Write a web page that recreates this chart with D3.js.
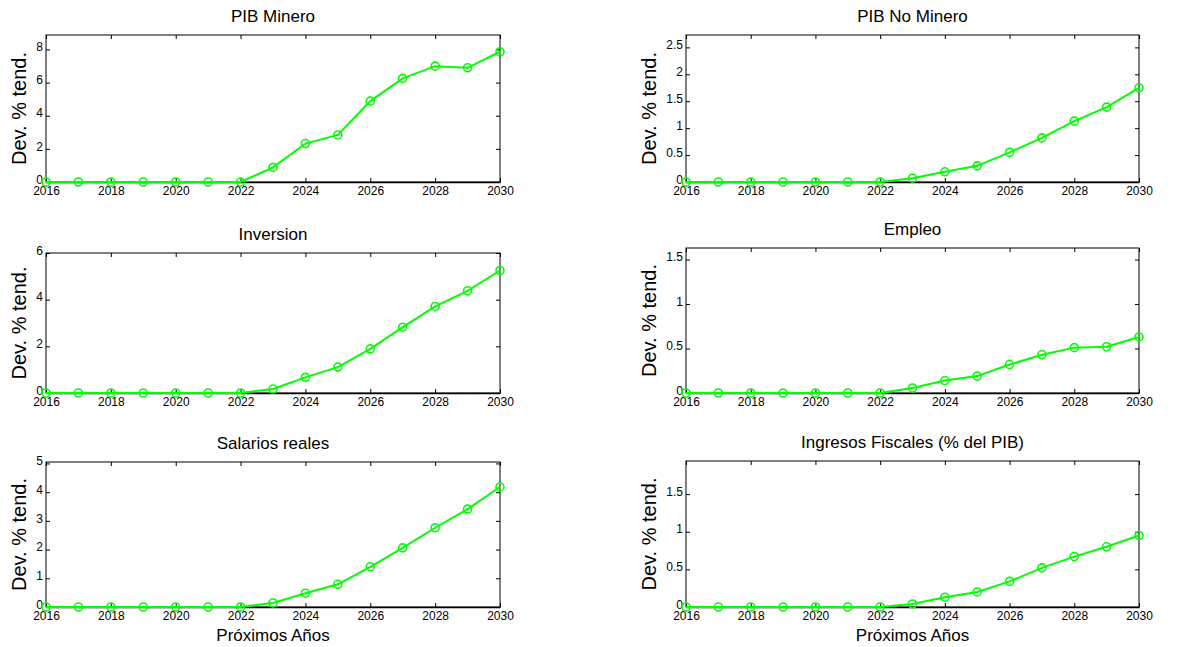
<!DOCTYPE html>
<html>
<head>
<meta charset="utf-8">
<title>Dev. % tend.</title>
<script src="https://d3js.org/d3.v7.min.js"></script>
<style>
  body { margin: 0; background: #fff; }
  svg { font-family: "Liberation Sans", Arial, sans-serif; }
</style>
</head>
<body>
<svg width="1202" height="647"></svg>
<script>
var years = [2016, 2017, 2018, 2019, 2020, 2021, 2022, 2023, 2024, 2025, 2026, 2027, 2028, 2029, 2030];
var xTicks = [2016, 2018, 2020, 2022, 2024, 2026, 2028, 2030];

var titles = ["PIB Minero", "PIB No Minero", "Inversion", "Empleo", "Salarios reales", "Ingresos Fiscales (% del PIB)"];

var pibMinero   = [0, 0, 0, 0, 0, 0, 0, 0.88, 2.32, 2.84, 4.88, 6.25, 6.99, 6.89, 7.86];
var pibNoMinero = [0, 0, 0, 0, 0, 0, 0, 0.07, 0.19, 0.30, 0.55, 0.82, 1.13, 1.39, 1.75];
var inversion   = [0, 0, 0, 0, 0, 0, 0, 0.17, 0.67, 1.11, 1.89, 2.82, 3.71, 4.38, 5.25];
var empleo      = [0, 0, 0, 0, 0, 0, 0, 0.056, 0.14, 0.19, 0.32, 0.43, 0.51, 0.52, 0.63];
var salarios    = [0, 0, 0, 0, 0, 0, 0, 0.14, 0.48, 0.79, 1.40, 2.06, 2.76, 3.41, 4.18];
var ingresos    = [0, 0, 0, 0, 0, 0, 0, 0.04, 0.13, 0.20, 0.34, 0.52, 0.67, 0.80, 0.95];

var yMax   = [8.87, 2.73, 6, 1.63, 5.05, 1.94];
var yTicks = [
  [0, 2, 4, 6, 8],
  [0, 0.5, 1, 1.5, 2, 2.5],
  [0, 2, 4, 6],
  [0, 0.5, 1, 1.5],
  [0, 1, 2, 3, 4, 5],
  [0, 0.5, 1, 1.5]
];
var series = [pibMinero, pibNoMinero, inversion, empleo, salarios, ingresos];

// layout of the 3x2 grid
var colLeft = [46, 686], colRight = [500, 1139];
var labelOffset = [27, 37];
var tops = [35, 35, 253, 248, 462, 461];
var bottoms = [182, 182, 393, 393, 607, 607];
var green = "#00ff00";

var svg = d3.select("svg");
var fmt = d3.format("~g");

series.forEach(function(vals, i) {
  var col = i % 2, row = Math.floor(i / 2);
  var x0 = colLeft[col], x1 = colRight[col], y0 = tops[i], y1 = bottoms[i];

  var x = d3.scaleLinear().domain([2016, 2030]).range([x0, x1]);
  var y = d3.scaleLinear().domain([0, yMax[i]]).range([y1, y0]);
  var g = svg.append("g");

  // box
  g.append("rect")
    .attr("x", x0).attr("y", y0)
    .attr("width", x1 - x0).attr("height", y1 - y0)
    .attr("fill", "none").attr("stroke", "#000").attr("stroke-width", 1);

  // inward ticks: bottom / top
  g.append("g").attr("transform", "translate(0," + y1 + ")")
    .call(d3.axisBottom(x).tickValues(xTicks).tickFormat(d3.format("d")).tickSizeInner(-4).tickSizeOuter(0).tickPadding(4))
    .call(function(a) {
      a.select(".domain").attr("stroke-width", 1.5);
      a.selectAll("text").attr("font-size", 12).attr("fill", "#000").attr("font-family", "Liberation Sans, Arial, sans-serif");
    });
  g.append("g").attr("transform", "translate(0," + y0 + ")")
    .call(d3.axisTop(x).tickValues(xTicks).tickFormat("").tickSizeInner(-4).tickSizeOuter(0))
    .call(function(a) { a.select(".domain").remove(); });

  // inward ticks: left / right
  g.append("g").attr("transform", "translate(" + x0 + ",0)")
    .call(d3.axisLeft(y).tickValues(yTicks[i]).tickFormat(fmt).tickSizeInner(-4).tickSizeOuter(0).tickPadding(3))
    .call(function(a) {
      a.select(".domain").remove();
      a.selectAll("text").attr("font-size", 12).attr("fill", "#000").attr("dy", "0.1em")
        .attr("font-family", "Liberation Sans, Arial, sans-serif");
    });
  g.append("g").attr("transform", "translate(" + x1 + ",0)")
    .call(d3.axisRight(y).tickValues(yTicks[i]).tickFormat("").tickSizeInner(-4).tickSizeOuter(0))
    .call(function(a) { a.select(".domain").remove(); });

  // series
  var pts = years.map(function(yr, k) { return [yr, vals[k]]; });
  g.append("path")
    .datum(pts)
    .attr("fill", "none")
    .attr("stroke", green)
    .attr("stroke-width", 2)
    .attr("d", d3.line().x(function(d) { return x(d[0]); }).y(function(d) { return y(d[1]); }));

  g.selectAll("circle.m").data(pts).enter().append("circle")
    .attr("class", "m")
    .attr("cx", function(d) { return x(d[0]); })
    .attr("cy", function(d) { return y(d[1]); })
    .attr("r", 4)
    .attr("fill", "none")
    .attr("stroke", green)
    .attr("stroke-width", 1.6);

  // title
  g.append("text")
    .attr("x", (x0 + x1) / 2)
    .attr("y", y0 - 13)
    .attr("text-anchor", "middle")
    .attr("font-size", 17)
    .text(titles[i]);

  // y label
  g.append("text")
    .attr("transform", "translate(" + (x0 - labelOffset[col]) + "," + ((y0 + y1) / 2) + ") rotate(-90)")
    .attr("dy", "0.35em")
    .attr("text-anchor", "middle")
    .attr("font-size", 20)
    .text("Dev. % tend.");

  if (row === 2) {
    g.append("text")
      .attr("x", (x0 + x1) / 2)
      .attr("y", y1 + 34)
      .attr("text-anchor", "middle")
      .attr("font-size", 17)
      .text("Próximos Años");
  }
});
</script>
</body>
</html>
